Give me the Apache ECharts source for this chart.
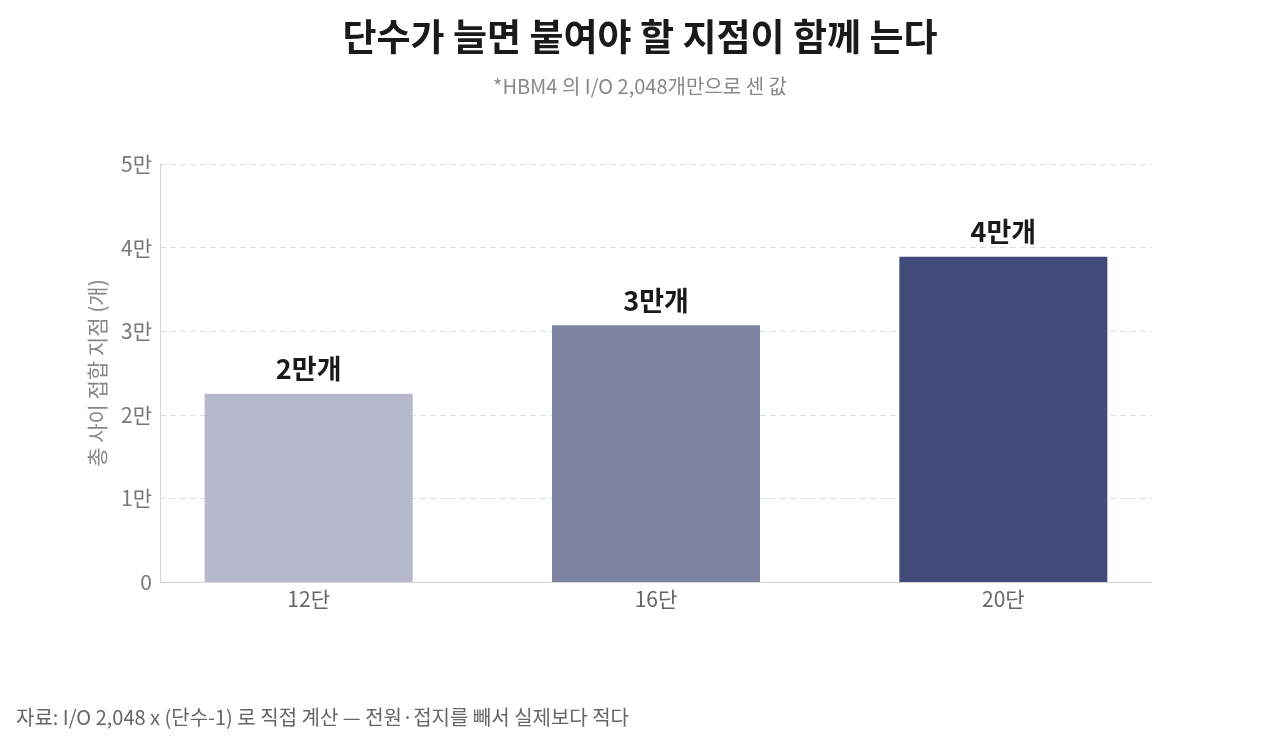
<!DOCTYPE html>
<html>
<head>
<meta charset="utf-8">
<script src="https://cdn.jsdelivr.net/npm/echarts@6/dist/echarts.min.js"></script>
<style>
  html, body { margin: 0; padding: 0; background: #fff; }
  #chart { width: 1280px; height: 747px; }
</style>
</head>
<body>
<div id="chart"></div>
<script>
// 데이터
const categories = ['12단', '16단', '20단'];
const values = [22528, 30720, 38912];
const barLabels = ['2만개', '3만개', '4만개'];
const barColors = ['#b6b9cc', '#7d83a1', '#414a78'];
const yTickLabels = ['0', '1만', '2만', '3만', '4만', '5만'];

const font = '"Noto Sans CJK KR", "Noto Sans", sans-serif';

const chart = echarts.init(document.getElementById('chart'));

chart.setOption({
  backgroundColor: '#fff',
  textStyle: { fontFamily: font },
  title: {
    text: '단수가 늘면 붙여야 할 지점이 함께 는다',
    subtext: '*HBM4 의 I/O 2,048개만으로 센 값',
    left: 'center',
    top: 13,
    itemGap: 21,
    textStyle: { fontFamily: font, fontSize: 37, fontWeight: 'bold', color: '#1a1a1a' },
    subtextStyle: { fontFamily: font, fontSize: 20, color: '#888' }
  },
  graphic: [{
    type: 'text',
    left: 16,
    top: 707,
    style: {
      text: '자료: I/O 2,048 x (단수-1) 로 직접 계산 — 전원·접지를 빼서 실제보다 적다',
      font: '20px ' + font,
      fill: '#666'
    }
  }],
  // grid 0: 축선과 눈금선, grid 1: 막대 (범주 간격이 축보다 약간 넓음)
  grid: [
    { left: 160, right: 128, top: 164, bottom: 165 },
    { left: 135, right: 103, top: 164, bottom: 165 }
  ],
  xAxis: [{
    type: 'value',
    gridIndex: 0,
    min: 0,
    max: 1,
    axisLine: { show: true, lineStyle: { color: '#d4d4d4' } },
    axisTick: { show: false },
    axisLabel: { show: false },
    splitLine: { show: false }
  }, {
    type: 'category',
    gridIndex: 1,
    data: categories,
    axisLine: { show: false },
    axisTick: { show: false },
    axisLabel: { fontFamily: font, fontSize: 21, color: '#666', margin: 7 }
  }],
  yAxis: [{
    type: 'value',
    gridIndex: 0,
    min: 0,
    max: 50000,
    interval: 10000,
    name: '총 사이 접합 지점 (개)',
    nameLocation: 'middle',
    nameGap: 52,
    nameRotate: 90,
    nameTextStyle: { fontFamily: font, fontSize: 21, color: '#888' },
    axisLine: { show: true, lineStyle: { color: '#d4d4d4' } },
    axisTick: { show: false },
    axisLabel: {
      fontFamily: font, fontSize: 21, color: '#777', margin: 8,
      formatter: (v) => yTickLabels[Math.round(v / 10000)]
    },
    splitLine: { lineStyle: { color: '#dedede', type: [6, 4] } }
  }, {
    type: 'value',
    gridIndex: 1,
    min: 0,
    max: 50000,
    show: false,
    splitLine: { show: false }
  }],
  series: [{
    type: 'bar',
    xAxisIndex: 1,
    yAxisIndex: 1,
    barWidth: 208,
    data: values.map((v, i) => ({ value: v, itemStyle: { color: barColors[i] } })),
    label: {
      show: true,
      position: 'top',
      distance: 11,
      fontFamily: font,
      fontSize: 27,
      fontWeight: 'bold',
      color: '#1a1a1a',
      formatter: (p) => barLabels[p.dataIndex]
    }
  }]
});
</script>
</body>
</html>
